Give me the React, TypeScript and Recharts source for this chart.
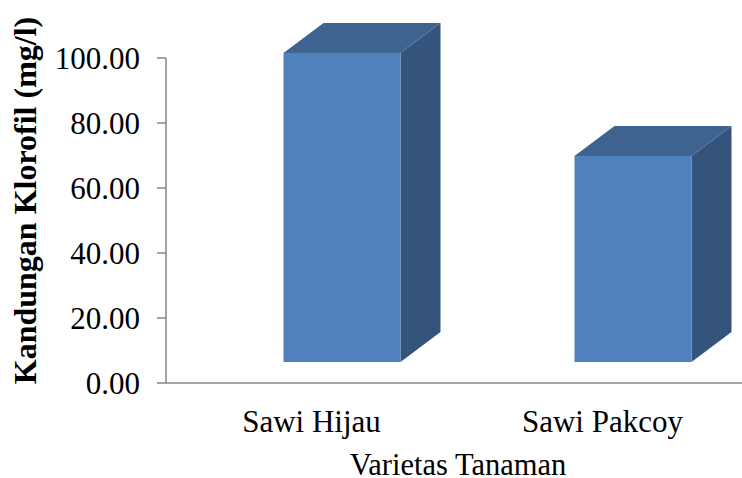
import { Bar, BarChart, XAxis, YAxis } from 'recharts'

const categories = ['Sawi Hijau', 'Sawi Pakcoy']
const chlorophyll = [95.1, 63.4]
const yTicks = [0, 20, 40, 60, 80, 100]

const FONT = '"Liberation Serif", "Times New Roman", serif'
const AXIS_COLOR = '#868686'

// oblique 3D look of the Excel columns
const DEPTH_X = 40
const DEPTH_Y = 30
const LIFT = 21

const chartData = categories.map((name, i) => ({ name, value: chlorophyll[i] }))

function Column3D(props: any) {
  const { x, y, width, height } = props
  if (!height || height <= 0) return null
  const top = y - LIFT
  const bottom = y + height - LIFT
  const right = x + width
  return (
    <g>
      <path
        d={`M${right},${top} L${right + DEPTH_X},${top - DEPTH_Y} L${right + DEPTH_X},${bottom - DEPTH_Y} L${right},${bottom} Z`}
        fill="#34547C"
      />
      <path
        d={`M${x},${top} L${x + DEPTH_X},${top - DEPTH_Y} L${right + DEPTH_X},${top - DEPTH_Y} L${right},${top} Z`}
        fill="#3E6391"
      />
      <rect x={x} y={top} width={width} height={height} fill="#4F81BD" />
    </g>
  )
}

function YTitle(props: any) {
  const { viewBox } = props
  const cx = viewBox.x + viewBox.width - 130
  const cy = viewBox.y + viewBox.height / 2 - 20
  return (
    <text
      x={cx}
      y={cy}
      transform={`rotate(-90, ${cx}, ${cy})`}
      textAnchor="middle"
      fontFamily={FONT}
      fontSize={32}
      fontWeight="bold"
      fill="#000"
    >
      Kandungan Klorofil (mg/l)
    </text>
  )
}

function XTitle(props: any) {
  const { viewBox } = props
  return (
    <text
      x={viewBox.x + 292}
      y={viewBox.y + 92}
      textAnchor="middle"
      fontFamily={FONT}
      fontSize={30.5}
      fill="#000"
    >
      Varietas Tanaman
    </text>
  )
}

export default function App() {
  return (
    <div style={{ position: 'fixed', left: 0, top: 0, width: 742, height: 478, overflow: 'hidden', background: '#fff' }}>
      <BarChart
        width={800}
        height={478}
        data={chartData}
        margin={{ top: 58, right: 0, bottom: 35, left: 66 }}
      >
        <XAxis
          dataKey="name"
          xAxisId="labels"
          padding={{ left: 0, right: 52 }}
          axisLine={{ stroke: AXIS_COLOR, strokeWidth: 1.5 }}
          tickLine={false}
          tickSize={0}
          tickMargin={27}
          height={60}
          tick={{ fontFamily: FONT, fontSize: 31, fill: '#000' }}
          label={<XTitle />}
        />
        <XAxis dataKey="name" xAxisId="bars" hide height={0} padding={{ left: 30.5, right: 21.5 }} />
        <YAxis
          domain={[0, 100]}
          ticks={yTicks}
          width={100}
          axisLine={{ stroke: AXIS_COLOR, strokeWidth: 1.5 }}
          tickLine={{ stroke: AXIS_COLOR, strokeWidth: 1.5 }}
          tickSize={9}
          tickMargin={17}
          tickFormatter={(v: number) => v.toFixed(2)}
          tick={{ fontFamily: FONT, fontSize: 31, fill: '#000' }}
          label={<YTitle />}
        />
        <Bar dataKey="value" xAxisId="bars" barSize={117} shape={<Column3D />} isAnimationActive={false} />
      </BarChart>
    </div>
  )
}
